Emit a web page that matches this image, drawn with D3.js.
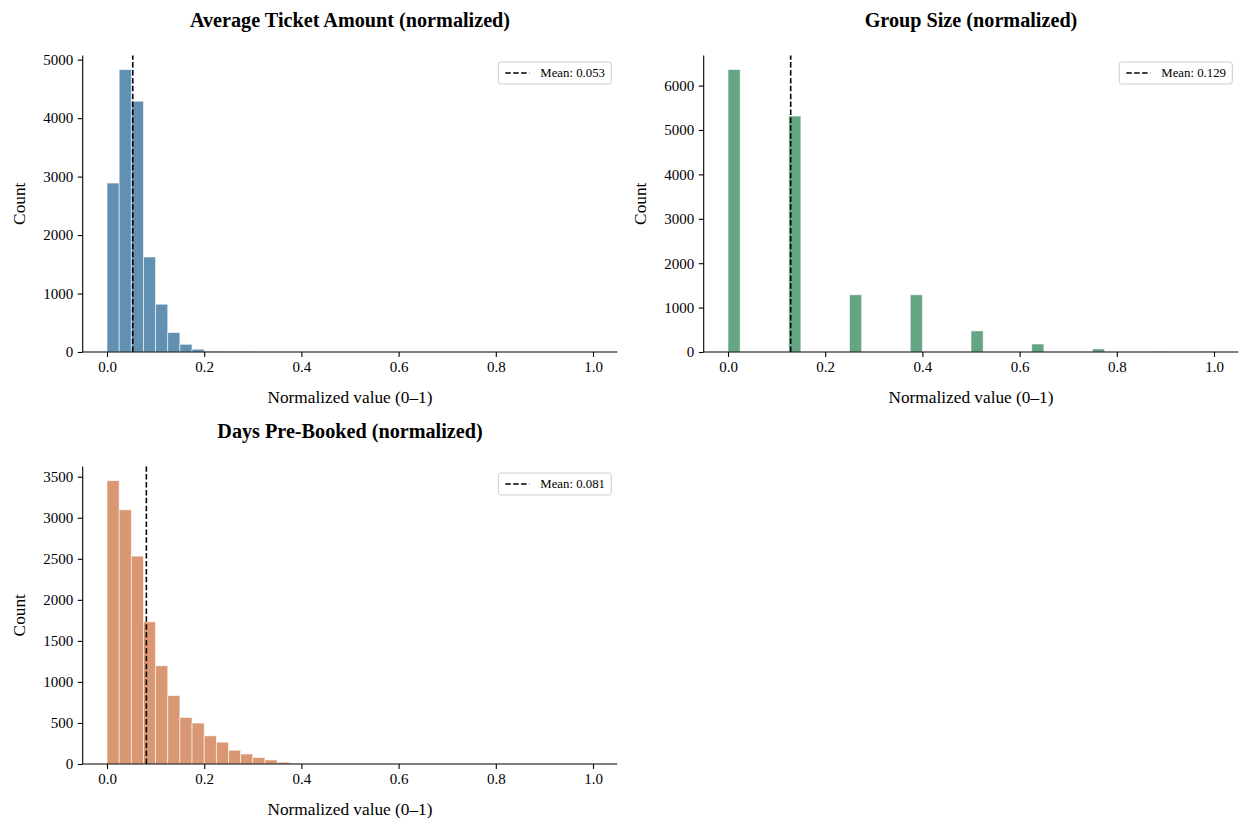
<!DOCTYPE html>
<html>
<head>
<meta charset="utf-8">
<script src="https://cdn.jsdelivr.net/npm/d3@7"></script>
<style>
  body { margin: 0; background: #fff; }
  svg { display: block; }
  text { font-family: "Liberation Serif", "Times New Roman", serif; fill: #000; }
</style>
</head>
<body>
<svg id="chart" width="1239" height="818"></svg>
<script>
// ---- Data (bin counts, 40 bins of width 0.025 over [0,1]) ----
const binEdges = d3.range(41).map(i => i / 40);
const ticketCounts = [2890, 4830, 4290, 1625, 818, 332, 132, 48, 12, 4, 2, 1, 0, 0, 0, 0, 0, 0, 0, 0,
                      0, 0, 0, 0, 0, 0, 0, 0, 0, 0, 0, 0, 0, 0, 0, 0, 0, 0, 0, 0];
const groupCounts = [6360, 0, 0, 0, 0, 5315, 0, 0, 0, 0, 1288, 0, 0, 0, 0, 1288, 0, 0, 0, 0,
                     475, 0, 0, 0, 0, 180, 0, 0, 0, 0, 70, 0, 0, 0, 0, 12, 0, 0, 0, 5];
const daysCounts = [3452, 3097, 2533, 1732, 1197, 833, 568, 499, 343, 266, 168, 122, 78, 49, 22, 10, 5, 3, 2, 1,
                    0, 0, 0, 0, 0, 0, 0, 0, 0, 0, 0, 0, 0, 0, 0, 0, 0, 0, 0, 0];
const means = [0.053, 0.129, 0.081];
const titles = ["Average Ticket Amount (normalized)", "Group Size (normalized)", "Days Pre-Booked (normalized)"];
const colors = ["#6190b3", "#64a584", "#d99873"];
const xTicks = [0, 0.2, 0.4, 0.6, 0.8, 1.0];
const yTicksList = [[0, 1000, 2000, 3000, 4000, 5000],
                    [0, 1000, 2000, 3000, 4000, 5000, 6000],
                    [0, 500, 1000, 1500, 2000, 2500, 3000, 3500]];
const xLabel = "Normalized value (0–1)";
const yLabel = "Count";

// ---- Layout ----
const panels = [
  { counts: ticketCounts, x0: 82.7, x1: 617.3, y0: 55.5, y1: 352 },
  { counts: groupCounts,  x0: 703.7, x1: 1238.3, y0: 55.5, y1: 352 },
  { counts: daysCounts,   x0: 82.7, x1: 617.3, y0: 466.5, y1: 764 }
];

const svg = d3.select("#chart");

panels.forEach((p, i) => {
  const g = svg.append("g");
  const x = d3.scaleLinear().domain([-0.05, 1.05]).range([p.x0, p.x1]);
  const yMax = d3.max(p.counts) * 1.05;
  const y = d3.scaleLinear().domain([0, yMax]).range([p.y1, p.y0]);

  const bins = p.counts.map((c, k) => ({ a: binEdges[k], b: binEdges[k + 1], c }));

  g.selectAll("rect.bar").data(bins.filter(d => d.c > 0)).join("rect")
    .attr("class", "bar")
    .attr("x", d => x(d.a))
    .attr("width", d => x(d.b) - x(d.a))
    .attr("y", d => y(d.c))
    .attr("height", d => y(0) - y(d.c))
    .attr("fill", colors[i])
    .attr("stroke", "#ffffff")
    .attr("stroke-opacity", 0.7)
    .attr("stroke-width", 0.8);

  // Mean line
  g.append("line")
    .attr("x1", x(means[i])).attr("x2", x(means[i]))
    .attr("y1", y(0)).attr("y2", y(yMax))
    .attr("stroke", "#000").attr("stroke-width", 1.6)
    .attr("stroke-dasharray", "5.5,2.4");

  // Axes
  const xAxis = d3.axisBottom(x).tickValues(xTicks).tickFormat(d3.format(".1f")).tickSizeOuter(0).tickSize(4.9).tickPadding(4.5);
  const yAxis = d3.axisLeft(y).tickValues(yTicksList[i]).tickFormat(d3.format("d")).tickSizeOuter(0).tickSize(4.9).tickPadding(4.5);

  const gx = g.append("g").attr("transform", `translate(0,${p.y1})`).call(xAxis);
  const gy = g.append("g").attr("transform", `translate(${p.x0},0)`).call(yAxis);
  [gx, gy].forEach(ax => {
    ax.attr("font-family", "Liberation Serif").attr("font-size", 15);
    ax.select(".domain").attr("stroke", "#000").attr("stroke-width", 1.1);
    ax.selectAll(".tick line").attr("stroke", "#000").attr("stroke-width", 1.1);
    ax.selectAll(".tick text").attr("font-size", 15).attr("font-family", "Liberation Serif");
  });
  gx.select(".domain").attr("d", `M${p.x0},0H${p.x1}`);
  gy.select(".domain").attr("d", `M0,${p.y1}V${p.y0}`);

  const cx = (p.x0 + p.x1) / 2;
  // Title
  g.append("text")
    .attr("x", cx).attr("y", p.y0 - 29)
    .attr("text-anchor", "middle")
    .attr("font-size", 20.2).attr("font-weight", "bold")
    .text(titles[i]);
  // X label
  g.append("text")
    .attr("x", cx).attr("y", p.y1 + 51)
    .attr("text-anchor", "middle")
    .attr("font-size", 17.3)
    .text(xLabel);
  // Y label
  g.append("text")
    .attr("transform", `translate(${p.x0 - 58},${(p.y0 + p.y1) / 2}) rotate(-90)`)
    .attr("text-anchor", "middle")
    .attr("font-size", 17.3)
    .text(yLabel);

  // Legend
  const lw = 113, lh = 22;
  const lx = p.x1 - 6 - lw, ly = p.y0 + 6.5;
  const lg = g.append("g").attr("transform", `translate(${lx},${ly})`);
  lg.append("rect").attr("width", lw).attr("height", lh).attr("rx", 2.5)
    .attr("fill", "#fff").attr("fill-opacity", 0.8)
    .attr("stroke", "#cccccc").attr("stroke-width", 1);
  lg.append("line").attr("x1", 7).attr("x2", 31).attr("y1", lh / 2).attr("y2", lh / 2)
    .attr("stroke", "#000").attr("stroke-width", 1.6).attr("stroke-dasharray", "5.5,2.4");
  lg.append("text").attr("x", 42).attr("y", lh / 2 + 4.4)
    .attr("font-size", 12.8)
    .text(`Mean: ${d3.format(".3f")(means[i])}`);
});
</script>
</body>
</html>
